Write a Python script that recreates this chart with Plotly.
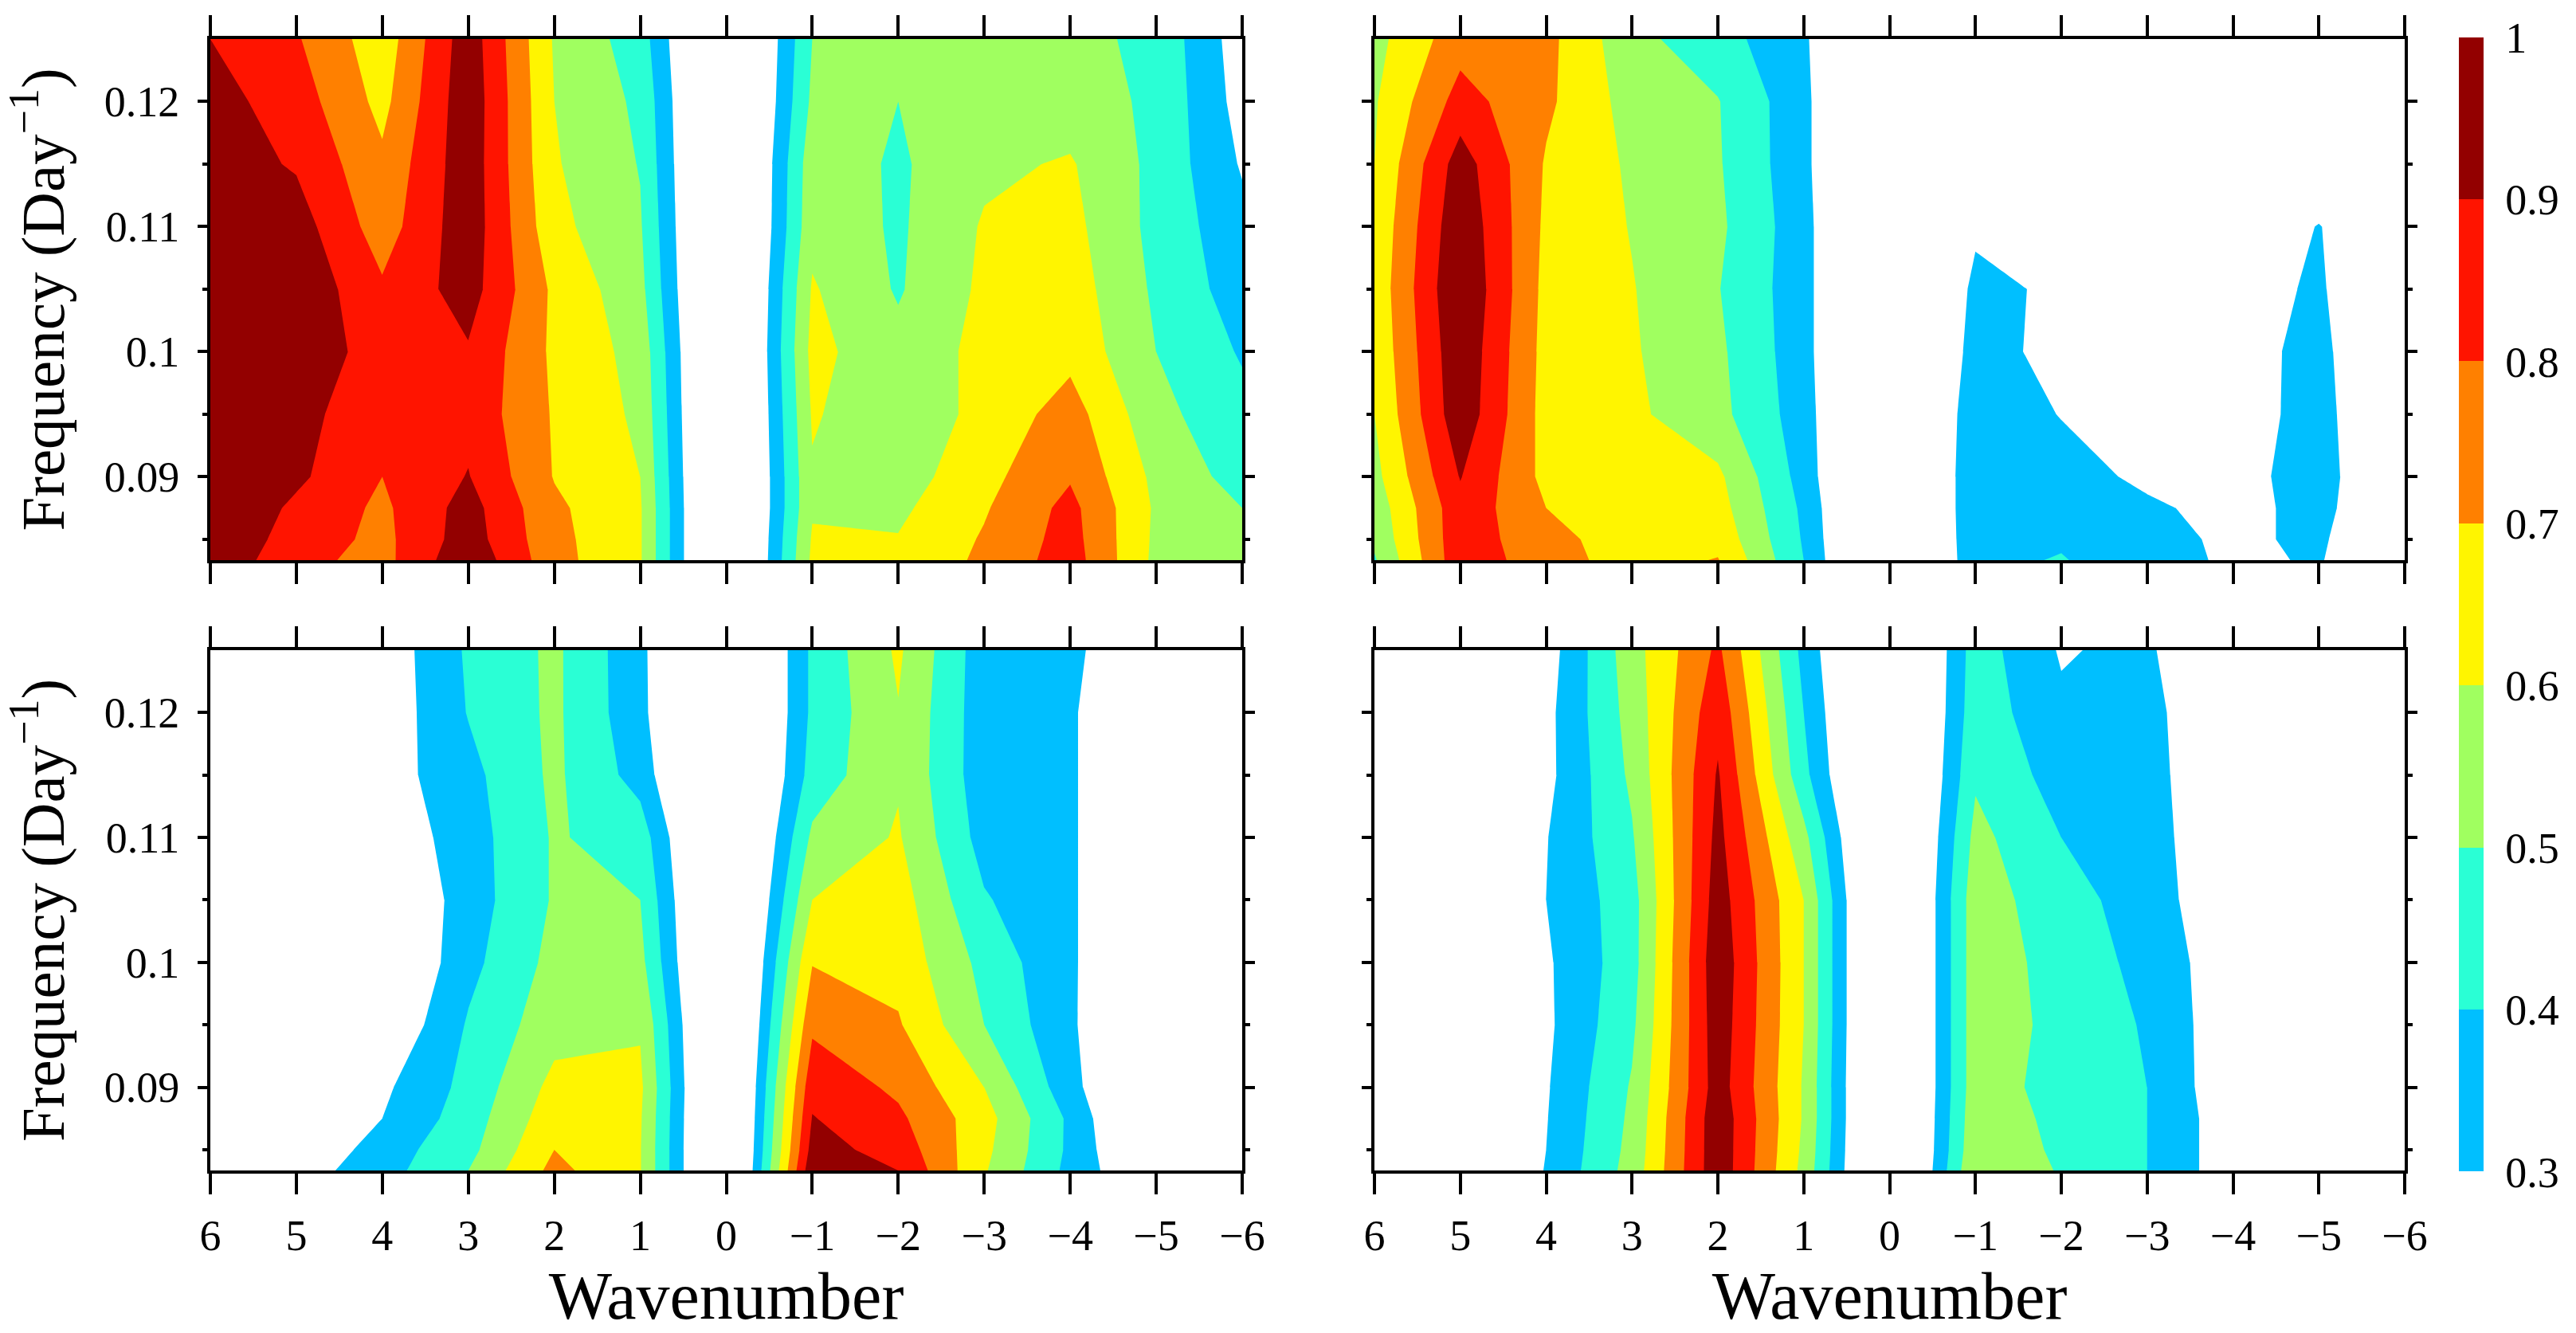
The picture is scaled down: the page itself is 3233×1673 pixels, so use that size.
import plotly.graph_objects as go

W, H = 3233, 1673

wavenumbers = [6, 5, 4, 3, 2, 1, 0, -1, -2, -3, -4, -5, -6]
frequencies = [1/12, 0.085, 0.0875, 0.09, 0.095, 0.1, 0.105, 0.11, 0.115, 0.12, 0.125]

panel_a = [
    [.98, .83, .767, .98, .735, .61, 0, .62, .62, .72, .85, .575, .52],
    [.98, .86, .772, .95, .73, .61, 0, .61, .605, .71, .84, .58, .51],
    [1.0, .88, .78, .94, .72, .61, 0, .59, .58, .69, .83, .585, .50],
    [1.0, .92, .80, .905, .695, .60, 0, .59, .55, .67, .79, .575, .46],
    [1.0, .93, .84, .87, .69, .58, 0, .61, .53, .63, .745, .53, .43],
    [1.0, .96, .86, .89, .68, .565, 0, .63, .53, .63, .67, .50, .39],
    [.99, .98, .815, .945, .68, .53, 0, .61, .49, .62, .65, .483, .35],
    [.97, .947, .75, .965, .63, .51, 0, .57, .485, .61, .63, .47, .33],
    [.95, .89, .72, .965, .61, .495, 0, .56, .485, .58, .61, .473, .29],
    [.94, .85, .67, .97, .60, .48, 0, .52, .50, .55, .55, .48, .26],
    [.90, .81, .64, .96, .59, .45, 0, .50, .53, .55, .53, .475, .245],
]
panel_b = [
    [.49, .87, .74, .66, .705, .40, 0, .38, .405, .35, .28, .31, .15],
    [.52, .87, .72, .67, .67, .39, 0, .385, .39, .335, .28, .32, .15],
    [.54, .87, .70, .665, .64, .38, 0, .39, .37, .32, .26, .34, .15],
    [.57, .905, .67, .66, .62, .36, 0, .39, .35, .275, .26, .35, .15],
    [.60, .97, .66, .62, .53, .35, 0, .38, .295, .20, .25, .34, .15],
    [.62, .98, .665, .61, .52, .34, 0, .35, .26, .20, .26, .33, .15],
    [.63, 1.0, .67, .605, .505, .34, 0, .33, .28, .20, .27, .31, .20],
    [.62, .98, .68, .595, .52, .34, 0, .28, .20, .20, .20, .305, .17],
    [.60, .95, .69, .585, .51, .33, 0, .20, .20, .20, .20, .20, .15],
    [.59, .84, .72, .56, .505, .33, 0, .20, .20, .20, .20, .20, .15],
    [.568, .76, .73, .53, .44, .32, 0, .18, .18, .18, .18, .18, .15],
]
panel_c = [
    [.12, .25, .36, .50, .73, .605, 0, .98, .90, .61, .37, .17, .10],
    [.10, .20, .35, .47, .70, .605, 0, .94, .86, .625, .38, .12, .10],
    [.10, .15, .30, .45, .66, .61, 0, .905, .82, .64, .38, .08, .05],
    [.10, .12, .28, .43, .63, .62, 0, .87, .78, .60, .335, .10, .05],
    [.10, .12, .196, .41, .56, .59, 0, .78, .71, .50, .315, .14, .10],
    [.10, .12, .15, .37, .53, .53, 0, .695, .665, .47, .31, .20, .10],
    [.10, .12, .17, .35, .51, .50, 0, .60, .645, .41, .31, .20, .10],
    [.10, .12, .22, .355, .51, .455, 0, .52, .61, .36, .31, .20, .10],
    [.10, .12, .25, .37, .52, .36, 0, .44, .59, .34, .31, .20, .10],
    [.10, .12, .23, .405, .52, .33, 0, .42, .595, .34, .31, .20, .10],
    [.10, .12, .232, .414, .52, .327, 0, .42, .616, .34, .32, .21, .10],
]
panel_d = [
    [.05, .15, .305, .54, .97, .57, 0, .60, .49, .40, .235, .05, .05],
    [.05, .15, .30, .53, .97, .58, 0, .58, .48, .40, .235, .05, .05],
    [.05, .15, .295, .52, .97, .59, 0, .57, .47, .40, .235, .05, .05],
    [.05, .15, .29, .51, .95, .59, 0, .56, .455, .40, .22, .05, .05],
    [.05, .15, .28, .48, .96, .60, 0, .56, .47, .39, .223, .05, .05],
    [.05, .15, .285, .46, .97, .60, 0, .56, .46, .37, .23, .05, .05],
    [.05, .15, .30, .46, .95, .60, 0, .56, .43, .365, .19, .05, .05],
    [.05, .15, .295, .49, .93, .53, 0, .53, .40, .36, .17, .05, .05],
    [.05, .10, .27, .52, .91, .43, 0, .485, .357, .35, .165, .05, .05],
    [.05, .10, .27, .54, .87, .40, 0, .46, .32, .34, .166, .05, .05],
    [.05, .10, .25, .56, .82, .37, 0, .45, .29, .33, .057, .05, .05],
]

band_colors = ["#ffffff", "#00bfff", "#2affd5", "#a0ff60", "#fff500", "#ff8000", "#ff1400", "#930000", "#ffffff"]
level_labels = ["0.3", "0.4", "0.5", "0.6", "0.7", "0.8", "0.9", "1"]
level_values = [.3, .4, .5, .6, .7, .8, .9, 1.0]
freq_major = [.09, .10, .11, .12]
freq_major_labels = ["0.09", "0.1", "0.11", "0.12"]
freq_minor = [.085, .095, .105, .115]

FONT = "Liberation Serif"
TICK_SIZE = 54
colorscale = [[i / 8, c] for i, c in enumerate(band_colors)]

# pixel boxes: left, right, top, bottom
boxes = [(262, 1561, 47, 705), (1723, 3020, 47, 705), (262, 1561, 814, 1471), (1723, 3020, 814, 1471)]
panels = [panel_a, panel_b, panel_c, panel_d]

# the colour bar's own range runs half a band past each end, in white
bar_px_per_unit = (1471 - 47) / 0.7
bar_len = 0.8 * bar_px_per_unit
bar_top = 47 - 0.05 * bar_px_per_unit

fig = go.Figure()
layout = dict(
    width=W, height=H, autosize=False, paper_bgcolor="white", plot_bgcolor="white",
    margin=dict(l=0, r=0, t=0, b=0, pad=0, autoexpand=False), showlegend=False,
)

for i, (z, box) in enumerate(zip(panels, boxes)):
    n = "" if i == 0 else str(i + 1)
    l, r, t, b = box
    fig.add_trace(go.Contour(
        x=wavenumbers, y=frequencies, z=z, xaxis="x" + n, yaxis="y" + n,
        autocontour=False,
        contours=dict(start=.3, end=1.0, size=.1, coloring="fill", showlines=False),
        line=dict(width=0, smoothing=0), colorscale=colorscale, showscale=i == 0,
        hoverinfo="skip",
        colorbar=dict(
            thicknessmode="pixels", thickness=31, lenmode="pixels", len=bar_len,
            x=3086 / W, xanchor="left", xpad=0, y=1 - bar_top / H, yanchor="top", ypad=0,
            outlinewidth=0, ticks="outside", ticklen=17, tickcolor="white", tickmode="array",
            tickvals=level_values, ticktext=level_labels,
            tickfont=dict(family=FONT, size=TICK_SIZE, color="black"), borderwidth=0,
        ),
    ))
    xa = dict(
        domain=[(l + 2) / W, (r - 2) / W], range=[6, -6], anchor="y" + n,
        tickmode="array", tickvals=wavenumbers, ticks="outside", ticklen=26, tickwidth=4, tickcolor="black",
        showline=True, linewidth=4, linecolor="black", mirror="allticks", showgrid=False, zeroline=False,
        showticklabels=i >= 2, ticklabelstandoff=5,
        tickfont=dict(family=FONT, size=TICK_SIZE, color="black"),
    )
    if i >= 2:
        xa["title"] = dict(text="Wavenumber", font=dict(family=FONT, size=84, color="black"), standoff=26)
    layout["xaxis" + n] = xa
    ya = dict(
        domain=[1 - (b - 2) / H, 1 - (t + 2) / H], range=[1 / 12, .125], anchor="x" + n,
        tickmode="array", tickvals=freq_major, ticktext=freq_major_labels,
        ticks="outside", ticklen=12, tickwidth=4, tickcolor="black",
        minor=dict(tickmode="array", tickvals=freq_minor, ticks="outside", ticklen=6, tickwidth=4, tickcolor="black", showgrid=False),
        showline=True, linewidth=4, linecolor="black", mirror="allticks", showgrid=False, zeroline=False,
        showticklabels=i % 2 == 0, ticklabelstandoff=12,
        tickfont=dict(family=FONT, size=TICK_SIZE, color="black"),
    )
    if i % 2 == 0:
        ya["title"] = dict(text="Frequency (Day<sup>−1</sup>)", font=dict(family=FONT, size=77, color="black"), standoff=46)
    layout["yaxis" + n] = ya

fig.update_layout(**layout)
fig.write_html("out.html", config={"displayModeBar": False}, post_script="document.body.style.margin='0';")
